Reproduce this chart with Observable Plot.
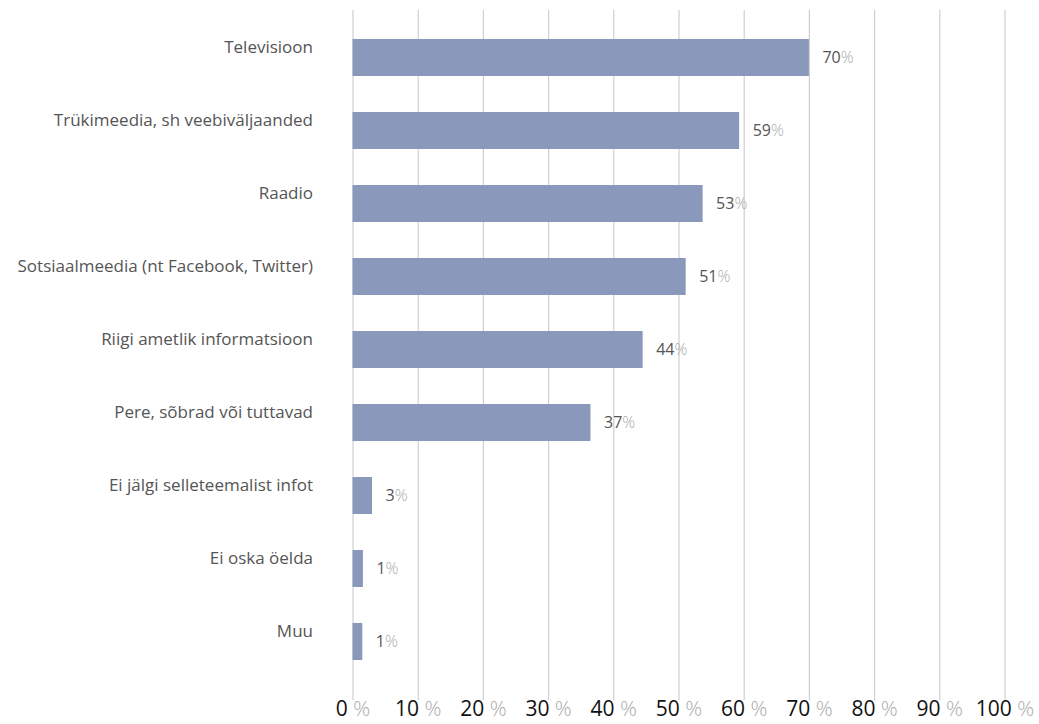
<!DOCTYPE html>
<html>
<head>
<meta charset="utf-8">
<script src="https://cdn.jsdelivr.net/npm/d3@7"></script>
<script src="https://cdn.jsdelivr.net/npm/@observablehq/plot@0.6"></script>
<style>
  html, body { margin: 0; padding: 0; background: #fff; }
  #chart svg { font-family: "Open Sans", sans-serif; }
</style>
</head>
<body>
<div id="chart"></div>
<script>
const categories = [
  "Televisioon",
  "Trükimeedia, sh veebiväljaanded",
  "Raadio",
  "Sotsiaalmeedia (nt Facebook, Twitter)",
  "Riigi ametlik informatsioon",
  "Pere, sõbrad või tuttavad",
  "Ei jälgi selleteemalist infot",
  "Ei oska öelda",
  "Muu"
];
const values = [70.0, 59.3, 53.7, 51.1, 44.5, 36.5, 3.0, 1.6, 1.5];
const valueLabels = ["70%", "59%", "53%", "51%", "44%", "37%", "3%", "1%", "1%"];
const xTicks = [0, 10, 20, 30, 40, 50, 60, 70, 80, 90, 100];
const tickLabels = xTicks.map(t => t + " %");

const data = categories.map((c, i) => ({cat: c, value: values[i], label: valueLabels[i]}));
const ticks = xTicks.map((t, i) => ({t, label: tickLabels[i]}));

const chart = Plot.plot({
  width: 1039,
  height: 724,
  marginLeft: 352.5,
  marginRight: 34.5,
  marginTop: 1,
  marginBottom: 26,
  x: {domain: [0, 100], axis: null},
  y: {domain: categories, axis: null, padding: 0.5},
  marks: [
    Plot.ruleX(ticks, {x: "t", stroke: "#cfcfcf", strokeWidth: 1.2, insetTop: 9, insetBottom: -2}),
    Plot.barX(data, {x: "value", y: "cat", fill: "#8a99bb"}),
    Plot.text(data, {x: "value", y: "cat", text: "label", textAnchor: "start", dx: 13, fontSize: 16, fill: "#555"}),
    Plot.text(data, {x: 0, y: "cat", text: "cat", textAnchor: "end", dx: -40, dy: -10, fontSize: 17, fill: "#555"}),
    Plot.text(ticks, {x: "t", text: "label", frameAnchor: "bottom", dy: 17, fontSize: 21, fill: "#111"})
  ]
});

// style the percent sign lighter, as in the reference
d3.select(chart).selectAll("text").each(function() {
  const el = d3.select(this);
  const s = el.text();
  const m = s.match(/^(\d+)( ?%)$/);
  if (m) {
    el.text(null);
    el.append("tspan").text(m[1]);
    el.append("tspan").text(m[2]).attr("fill", "#aaa").attr("font-weight", 300);
  }
});

document.getElementById("chart").appendChild(chart);
</script>
</body>
</html>
